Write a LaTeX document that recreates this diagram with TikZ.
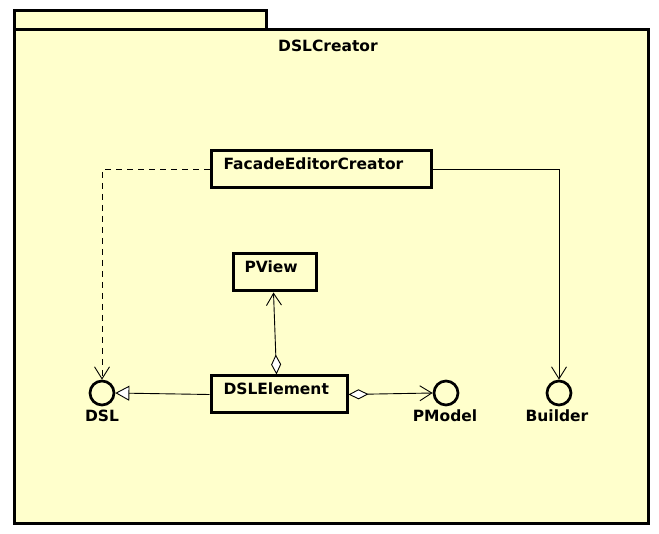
\documentclass[tikz,border=0pt]{standalone}
\usepackage{fontspec}
\setmainfont{DejaVu Sans}
\usetikzlibrary{arrows.meta}
\definecolor{pkgbg}{HTML}{FFFFCC}
\tikzset{
  lbl/.style={font=\fontsize{15.5}{18}\selectfont\bfseries, inner sep=0pt},
  classbox/.style={draw, line width=3pt, inner ysep=0pt, text height=19pt, text depth=18pt,
     align=left, anchor=north west, font=\fontsize{15.5}{18}\selectfont\bfseries},
  iface/.style={circle, draw, line width=2.7pt, minimum size=24pt, inner sep=0pt},
  conn/.style={line width=0.9pt},
  barb/.style={-{Straight Barb[length=12pt,width=15pt]}},
}
\begin{document}
\begin{tikzpicture}[x=1pt,y=-1pt]
\useasboundingbox (0,0) rectangle (659,534);
\fill[white] (0,0) rectangle (659,534);
% package
\draw[line width=3pt, fill=pkgbg] (14.5,10.5) rectangle (266.5,30);
\draw[line width=3pt, fill=pkgbg] (14.5,30) rectangle (648.5,523.5);
\node[lbl] (title) at (328,45.5) {DSLCreator};
% classes
\node[classbox, inner xsep=12.5pt, text width=195pt] (fec) at (209.5,149.5) {FacadeEditorCreator};
\node[classbox, inner xsep=11.5pt, text width=60pt] (pview) at (231.5,252.5) {PView};
\node[classbox, inner xsep=12.5pt, text width=111pt] (dsle) at (209.5,374.5) {DSLElement};
% interfaces
\node[iface] (dsl) at (102,393) {};
\node[iface] (pmodel) at (446,393) {};
\node[iface] (builder) at (559,393) {};
\node[lbl, anchor=north] (dsllbl) at (102,410) {DSL};
\node[lbl, anchor=north] (pmodellbl) at (445,410) {PModel};
\node[lbl, anchor=north] (builderlbl) at (557,410) {Builder};
% connectors
\draw[conn, barb, dash pattern=on 6pt off 5pt] (fec.west) -| (dsl.north);
\draw[conn, barb] (fec.east) -| (builder.north);
\draw[conn, -{Triangle[length=14pt,width=15pt,fill=white]}] (dsle.west) -- (dsl.east);
\draw[conn, {Diamond[length=20pt,width=10pt,fill=white]}-{Straight Barb[length=12pt,width=15pt]}] (dsle.east) -- (pmodel.west);
\draw[conn, {Diamond[length=20pt,width=10pt,fill=white]}-{Straight Barb[length=12pt,width=15pt]}] ([xshift=-2.5pt]dsle.north) -- ([xshift=-1pt]pview.south);
\end{tikzpicture}
\end{document}
